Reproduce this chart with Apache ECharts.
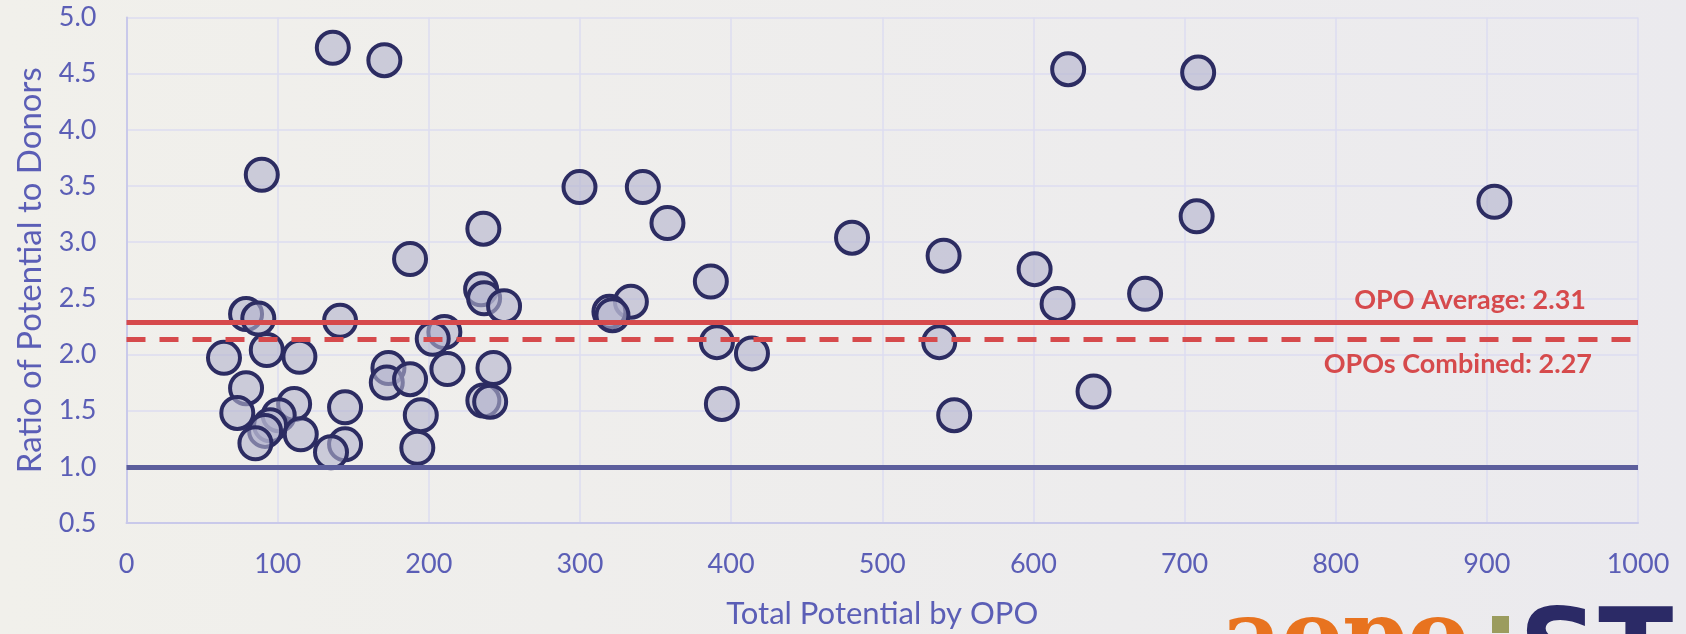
<!DOCTYPE html>
<html>
<head>
<meta charset="utf-8">
<script src="https://cdn.jsdelivr.net/npm/echarts@6/dist/echarts.min.js"></script>
<style>
html,body{margin:0;padding:0;width:1686px;height:634px;overflow:hidden;background:#efeeea;}
#chart{width:1686px;height:634px;}
</style>
</head>
<body>
<div id="chart"></div>
<script>
// Total potential by OPO (x) and ratio of potential to donors (y)
const potential = [136.5,170.6,623,709,89.5,299.7,341.6,357.9,236.1,905,708,480,187.6,540.6,600.8,386.6,234.6,236.6,249.8,333.7,319.5,321.5,673.9,616,79.1,87.2,141.3,210.3,202.6,390.6,537.7,413.8,92.8,64.5,114.4,173.3,212.3,242.8,172.2,187.6,79.1,639.8,110.9,236.1,240.6,144.6,547.6,73.3,100.7,393.9,194.7,95,91.7,115.3,85.3,144.6,135.3,192.4];
const ratio = [4.73,4.62,4.54,4.51,3.60,3.49,3.49,3.17,3.12,3.36,3.23,3.04,2.85,2.88,2.76,2.65,2.58,2.50,2.43,2.47,2.38,2.35,2.54,2.45,2.36,2.32,2.30,2.20,2.14,2.11,2.11,2.01,2.04,1.97,1.98,1.88,1.87,1.88,1.75,1.78,1.70,1.67,1.56,1.59,1.58,1.53,1.46,1.48,1.46,1.56,1.46,1.37,1.32,1.29,1.21,1.20,1.13,1.17];
const refLineValues = [2.295, 2.14, 1.0];
const refLineLabels = ['OPO Average: 2.31', 'OPOs Combined: 2.27', ''];
const xTicks = {min: 0, max: 1000, interval: 100};
const yTicks = {min: 0.5, max: 5.0, interval: 0.5};

const points = potential.map((x, i) => [x, ratio[i]]);
const FONT = 'Lato';
const AXIS_COLOR = '#5b5eb6';

const chart = echarts.init(document.getElementById('chart'), null, {renderer: 'canvas'});
chart.setOption({
  backgroundColor: {
    type: 'linear', x: 0, y: 0, x2: 1, y2: 0,
    colorStops: [{offset: 0, color: '#f1f0eb'}, {offset: 1, color: '#ebeaee'}]
  },
  animation: false,
  textStyle: {fontFamily: FONT},
  grid: {left: 126.5, right: 48, top: 17.5, bottom: 109.5, containLabel: false},
  xAxis: {
    type: 'value', min: xTicks.min, max: xTicks.max, interval: xTicks.interval,
    name: 'Total Potential by OPO', nameLocation: 'middle', nameGap: 75,
    nameTextStyle: {color: AXIS_COLOR, fontSize: 31, fontFamily: FONT},
    axisLine: {show: true, lineStyle: {color: '#c9c9ea', width: 2}},
    axisTick: {show: false},
    axisLabel: {color: AXIS_COLOR, fontSize: 27, margin: 28, fontFamily: FONT,
      formatter: v => String(v)},
    splitLine: {show: true, lineStyle: {color: '#dcdcf0', width: 1.5}}
  },
  yAxis: {
    type: 'value', min: yTicks.min, max: yTicks.max, interval: yTicks.interval,
    name: 'Ratio of Potential to Donors', nameLocation: 'middle', nameGap: 80,
    nameTextStyle: {color: AXIS_COLOR, fontSize: 33, fontFamily: FONT},
    axisLine: {show: true, lineStyle: {color: '#c9c9ea', width: 2}},
    axisTick: {show: false},
    axisLabel: {color: AXIS_COLOR, fontSize: 27, margin: 30, fontFamily: FONT,
      formatter: v => v.toFixed(1)},
    splitLine: {show: true, lineStyle: {color: '#dcdcf0', width: 1.5}}
  },
  series: [
    {
      type: 'line', data: [], silent: true,
      markLine: {
        silent: true, symbol: 'none', animation: false,
        data: [
          {yAxis: refLineValues[2], lineStyle: {color: '#5c5e9c', width: 5, type: 'solid'}, label: {show: false}},
          {yAxis: refLineValues[0], lineStyle: {color: '#d64a4c', width: 5, type: 'solid'},
            label: {show: true, position: 'insideEndTop', formatter: refLineLabels[0], distance: [52, 8],
              color: '#d64a4c', fontSize: 27, fontWeight: 'bold', fontFamily: FONT}},
          {yAxis: refLineValues[1], lineStyle: {color: '#d64a4c', width: 5, type: [19, 14]},
            label: {show: true, position: 'insideEndBottom', formatter: refLineLabels[1], distance: [46, 12],
              color: '#d64a4c', fontSize: 27, fontWeight: 'bold', fontFamily: FONT}}
        ]
      },
      z: 1
    },
    {
      type: 'scatter', data: points, symbol: 'circle', symbolSize: 32,
      itemStyle: {color: 'rgba(178,178,205,0.6)', borderColor: '#2c2c62', borderWidth: 4, opacity: 1},
      z: 3
    }
  ],
  graphic: [
    {type: 'text', left: 1222, top: 596, silent: true,
      style: {text: 'aopo', fill: '#e8731f', font: 'bold 92px "DejaVu Serif"'}},
    {type: 'rect', shape: {x: 1492, y: 616, width: 17, height: 17}, style: {fill: '#9b9c5e'}, silent: true},
    {type: 'text', left: 1519, top: 603, silent: true,
      style: {text: 'ST', fill: '#2b2a66', font: 'bold 110px "DejaVu Sans"'}}
  ]
});
</script>
</body>
</html>
